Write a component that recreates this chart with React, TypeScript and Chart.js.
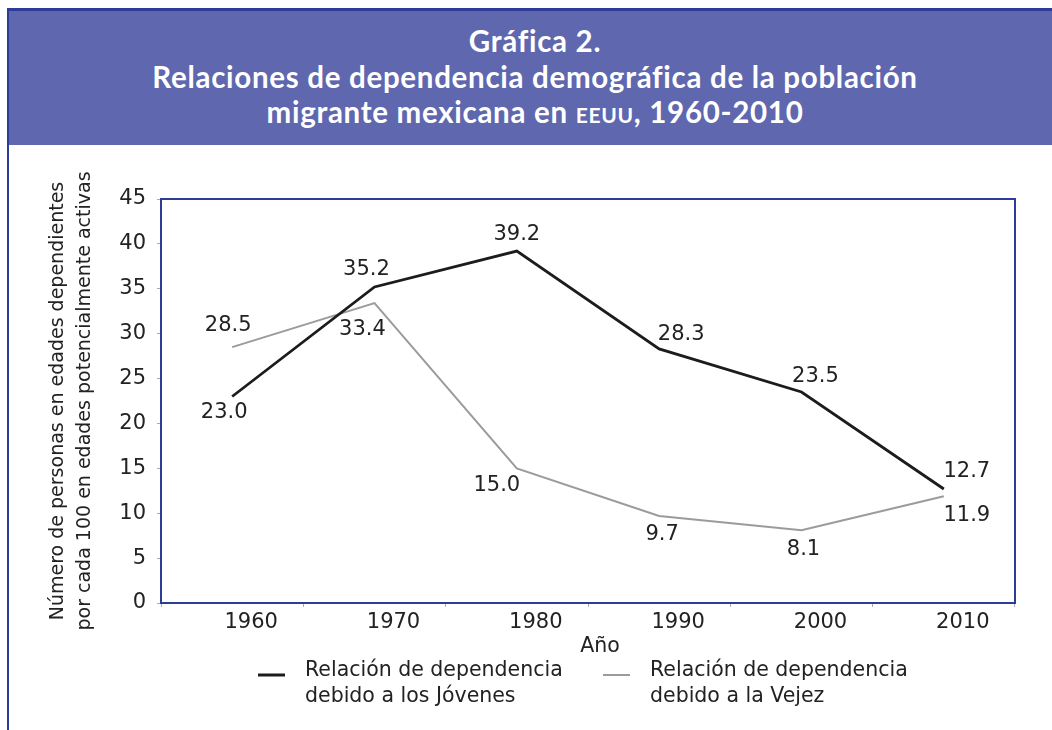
import React, { useEffect, useRef } from 'react';
import { Chart, registerables } from 'chart.js';

Chart.register(...registerables);

// ---- Data ----
const years: string[] = ['1960', '1970', '1980', '1990', '2000', '2010'];
const jovenes: number[] = [23.0, 35.2, 39.2, 28.3, 23.5, 12.7];
const vejez: number[] = [28.5, 33.4, 15.0, 9.7, 8.1, 11.9];
const seriesJovenes: string[] = ['Relación de dependencia', 'debido a los Jóvenes'];
const seriesVejez: string[] = ['Relación de dependencia', 'debido a la Vejez'];
const yTitle: string[] = [
  'Número de personas en edades dependientes',
  'por cada 100 en edades potencialmente activas',
];
const xTitle = 'Año';
const yMin = 0;
const yMax = 45;
const yStep = 5;

// ---- Styles (label placement relative to the point) ----
const offJ: number[][] = [[-8, 16], [-8, -17], [0, -17], [22, -14], [14, -15], [23, -17]];
const offV: number[][] = [[-4, -22], [-12, 26], [-20, 17], [3, 19], [2, 19], [23, 19]];
const BLACK = '#1c1c1c';
const GREY = '#9b9b9b';
const FRAME = '#2b3d97';
const TEXT = '#222222';
const FONT = '"DejaVu Sans", sans-serif';

const decor = {
  id: 'decor',
  afterDatasetsDraw(chart: any) {
    const { ctx, chartArea: ca } = chart;
    ctx.save();
    // plot frame
    ctx.strokeStyle = FRAME;
    ctx.lineWidth = 2;
    ctx.strokeRect(ca.left, ca.top, ca.right - ca.left, ca.bottom - ca.top);

    // value labels
    ctx.fillStyle = TEXT;
    ctx.font = `21px ${FONT}`;
    ctx.textAlign = 'center';
    ctx.textBaseline = 'middle';
    const sets = [offJ, offV];
    chart.data.datasets.forEach((ds: any, di: number) => {
      const meta = chart.getDatasetMeta(di);
      meta.data.forEach((pt: any, i: number) => {
        const v = ds.data[i] as number;
        const o = sets[di][i];
        ctx.fillText(v.toFixed(1), pt.x + o[0], pt.y + o[1]);
      });
    });

    // x axis title
    ctx.font = `20.5px ${FONT}`;
    ctx.fillText(xTitle, (ca.left + ca.right) / 2 + 12, ca.bottom + 44);

    // legend
    const items = [
      { color: BLACK, width: 3, x: ca.left + 97, lines: seriesJovenes },
      { color: GREY, width: 2, x: ca.left + 442, lines: seriesVejez },
    ];
    const ly = ca.bottom + 72;
    items.forEach((it) => {
      ctx.strokeStyle = it.color;
      ctx.lineWidth = it.width;
      ctx.beginPath();
      ctx.moveTo(it.x, ly);
      ctx.lineTo(it.x + 27, ly);
      ctx.stroke();
      ctx.textAlign = 'left';
      ctx.fillStyle = TEXT;
      ctx.font = `20.5px ${FONT}`;
      it.lines.forEach((t, k) => {
        ctx.fillText(t, it.x + 47, ly - 4 + k * 26);
      });
    });
    ctx.restore();
  },
};

function LineChart() {
  const ref = useRef<HTMLCanvasElement | null>(null);
  useEffect(() => {
    if (!ref.current) return;
    const chart = new Chart(ref.current, {
      type: 'line',
      data: {
        labels: years,
        datasets: [
          {
            label: seriesJovenes.join(' '),
            data: jovenes,
            borderColor: BLACK,
            borderWidth: 2.8,
            pointRadius: 0,
            tension: 0,
          },
          {
            label: seriesVejez.join(' '),
            data: vejez,
            borderColor: GREY,
            borderWidth: 2,
            pointRadius: 0,
            tension: 0,
          },
        ],
      },
      options: {
        responsive: false,
        animation: false,
        layout: { padding: { top: 54, right: 37, left: 0, bottom: 0 } },
        plugins: {
          legend: { display: false },
          tooltip: { enabled: false },
          title: { display: false },
        },
        scales: {
          x: {
            type: 'category',
            offset: true,
            grid: { offset: true, drawOnChartArea: false, drawTicks: true, tickLength: 4, color: '#aaaaaa' },
            border: { display: false },
            ticks: {
              color: TEXT,
              font: { family: FONT, size: 21 },
              padding: 3,
              labelOffset: 19,
              maxRotation: 0,
              autoSkip: false,
            },
            afterFit: (s: any) => {
              s.height = 127;
            },
          },
          y: {
            min: yMin,
            max: yMax,
            grid: { drawOnChartArea: false, drawTicks: true, tickLength: 4, color: '#aaaaaa' },
            border: { display: false },
            ticks: {
              stepSize: yStep,
              color: TEXT,
              font: { family: FONT, size: 21 },
              padding: 11,
            },
            title: {
              display: true,
              text: yTitle,
              color: TEXT,
              font: { family: FONT, size: 19, lineHeight: 1.42 },
              padding: { top: 36, bottom: 0 },
            },
            afterFit: (s: any) => {
              s.width = 152;
            },
          },
        },
      },
      plugins: [decor],
    } as any);
    return () => chart.destroy();
  }, []);
  return <canvas ref={ref} width={1043} height={585} style={{ display: 'block' }} />;
}

export default function App() {
  return (
    <div style={{ position: 'absolute', left: 0, top: 0, width: 1052, height: 730, overflow: 'hidden', background: '#fff' }}>
      <div
        style={{
          position: 'absolute',
          left: 7,
          top: 8,
          width: 1045,
          height: 137,
          boxSizing: 'border-box',
          background: '#5f67ae',
          borderTop: `3px solid ${FRAME}`,
          borderLeft: `2px solid ${FRAME}`,
          color: '#fff',
          fontFamily: 'Lato, "Open Sans", sans-serif',
          fontWeight: 700,
          fontSize: 29.5,
          letterSpacing: '0.7px',
          lineHeight: '35.5px',
          textAlign: 'center',
          paddingTop: 12,
          paddingLeft: 9,
        }}
      >
        <div>Gráfica 2.</div>
        <div>Relaciones de dependencia demográfica de la población</div>
        <div>
          migrante mexicana en <span style={{ fontVariant: 'small-caps' }}>eeuu</span>, 1960-2010
        </div>
      </div>
      <div style={{ position: 'absolute', left: 7, top: 145, width: 2, height: 585, background: FRAME }} />
      <div style={{ position: 'absolute', left: 9, top: 145 }}>
        <LineChart />
      </div>
    </div>
  );
}
